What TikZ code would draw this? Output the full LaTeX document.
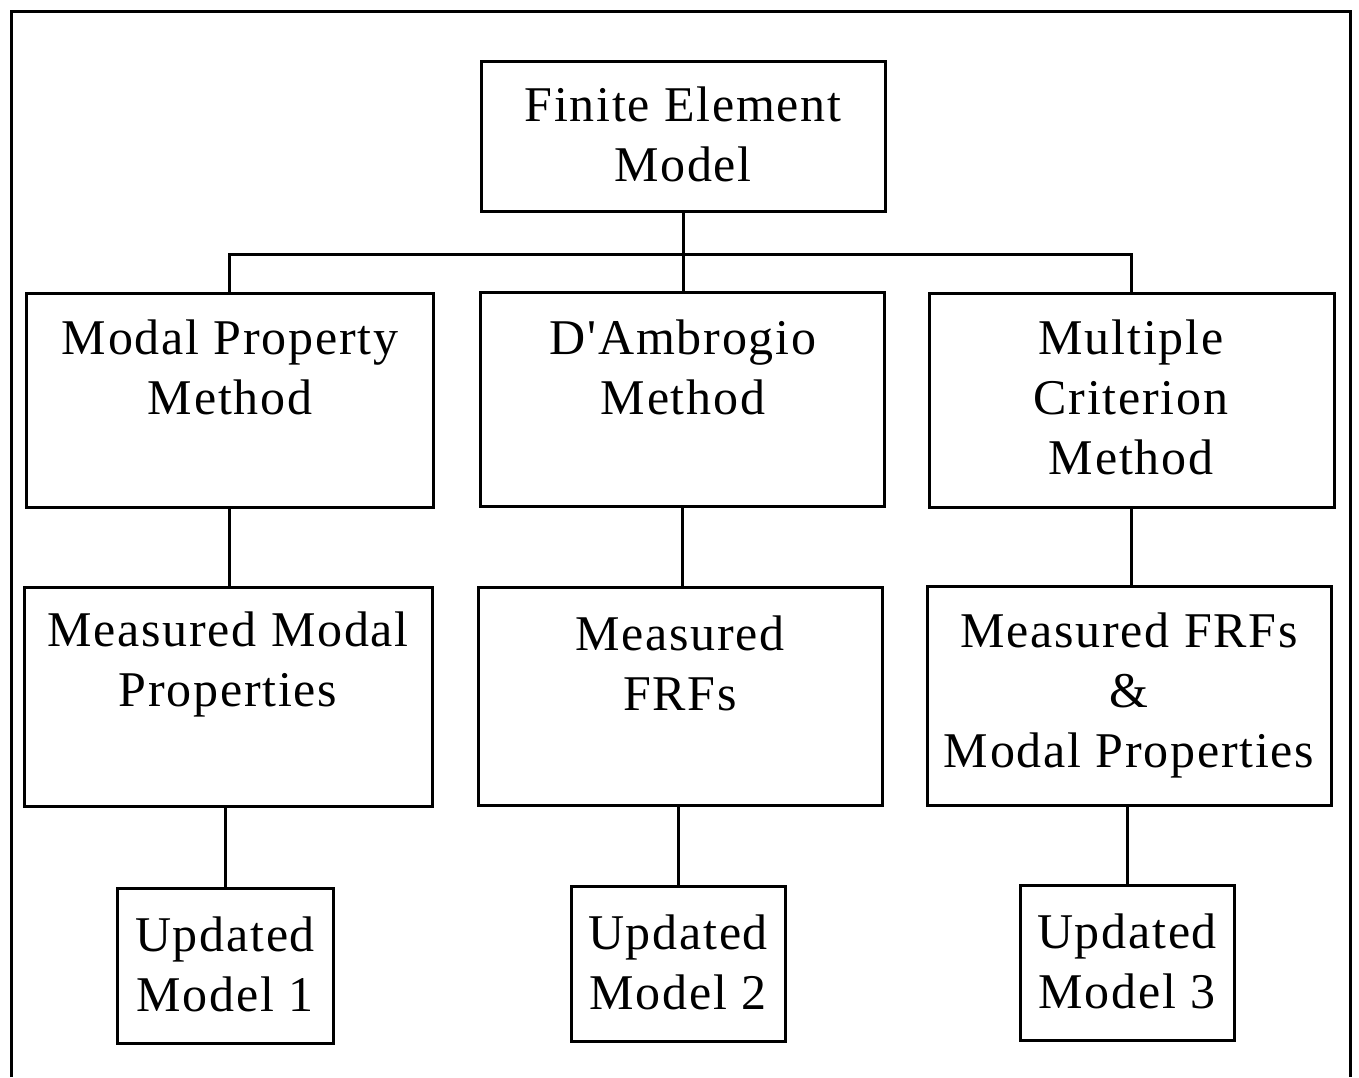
\documentclass[tikz,border=0pt]{standalone}
\usepackage{fontspec}
\setmainfont{Liberation Serif}[LetterSpace=3.5, Ligatures=TeXOff]
\begin{document}
\begin{tikzpicture}[x=0.5pt,y=-0.5pt,
  box/.style={draw, line width=1.5pt, inner sep=0pt},
  txt/.style={inner sep=0pt, align=center, font=\fontsize{25}{30}\selectfont},
  conn/.style={line width=1.5pt}]
\useasboundingbox (0,0) rectangle (1359,1077);
\draw[line width=1.5pt] (11,1077) -- (11,11) -- (1350,11) -- (1350,1077);
% boxes
\node[box, minimum width=202pt, minimum height=75pt] (fem) at (683,136) {};
\node[box, minimum width=203.5pt, minimum height=107pt] (mpm) at (229.5,400) {};
\node[box, minimum width=202pt, minimum height=107pt] (dam) at (682,399) {};
\node[box, minimum width=202.5pt, minimum height=107pt] (mcm) at (1131.5,400) {};
\node[box, minimum width=204pt, minimum height=109.5pt] (mmp) at (228,696.5) {};
\node[box, minimum width=202pt, minimum height=109pt] (mfr) at (680,696) {};
\node[box, minimum width=202pt, minimum height=109.5pt] (mfm) at (1129,695.5) {};
\node[box, minimum width=108pt, minimum height=77.5pt] (um1) at (225,965.5) {};
\node[box, minimum width=107pt, minimum height=77.5pt] (um2) at (678,963.5) {};
\node[box, minimum width=107pt, minimum height=77.5pt] (um3) at (1127,962.5) {};
% texts
\node[txt] (femt) at (683,134) {Finite Element\\Model};
\node[txt] (mpmt) at (230,367) {Modal Property\\Method};
\node[txt] (damt) at (683,367) {D'Ambrogio\\Method};
\node[txt] (mcmt) at (1131,397) {Multiple\\Criterion\\Method};
\node[txt] (mmpt) at (228,664) {Measured Modal\\Properties};
\node[txt] (mfrt) at (680,663) {Measured\\FRFs};
\node[txt] (mfmt) at (1129,695) {Measured FRFs\\\&\\Modal Properties};
\node[txt] (um1t) at (225,964) {Updated\\Model 1};
\node[txt] (um2t) at (678,962) {Updated\\Model 2};
\node[txt] (um3t) at (1127,961) {Updated\\Model 3};
% connectors
\coordinate (hb) at (683,254);
\draw[conn] (fem.south) -- (fem.south |- dam.north);
\draw[conn] (mpm.north) -- (mpm.north |- hb) -- (mcm.north |- hb) -- (mcm.north);
\draw[conn] (mpm.south) -- (mpm.south |- mmp.north);
\draw[conn] (dam.south) -- (dam.south |- mfr.north);
\draw[conn] (mcm.south) -- (mcm.south |- mfm.north);
\draw[conn] (um1.north) -- (um1.north |- mmp.south);
\draw[conn] (um2.north) -- (um2.north |- mfr.south);
\draw[conn] (um3.north) -- (um3.north |- mfm.south);
\end{tikzpicture}
\end{document}
